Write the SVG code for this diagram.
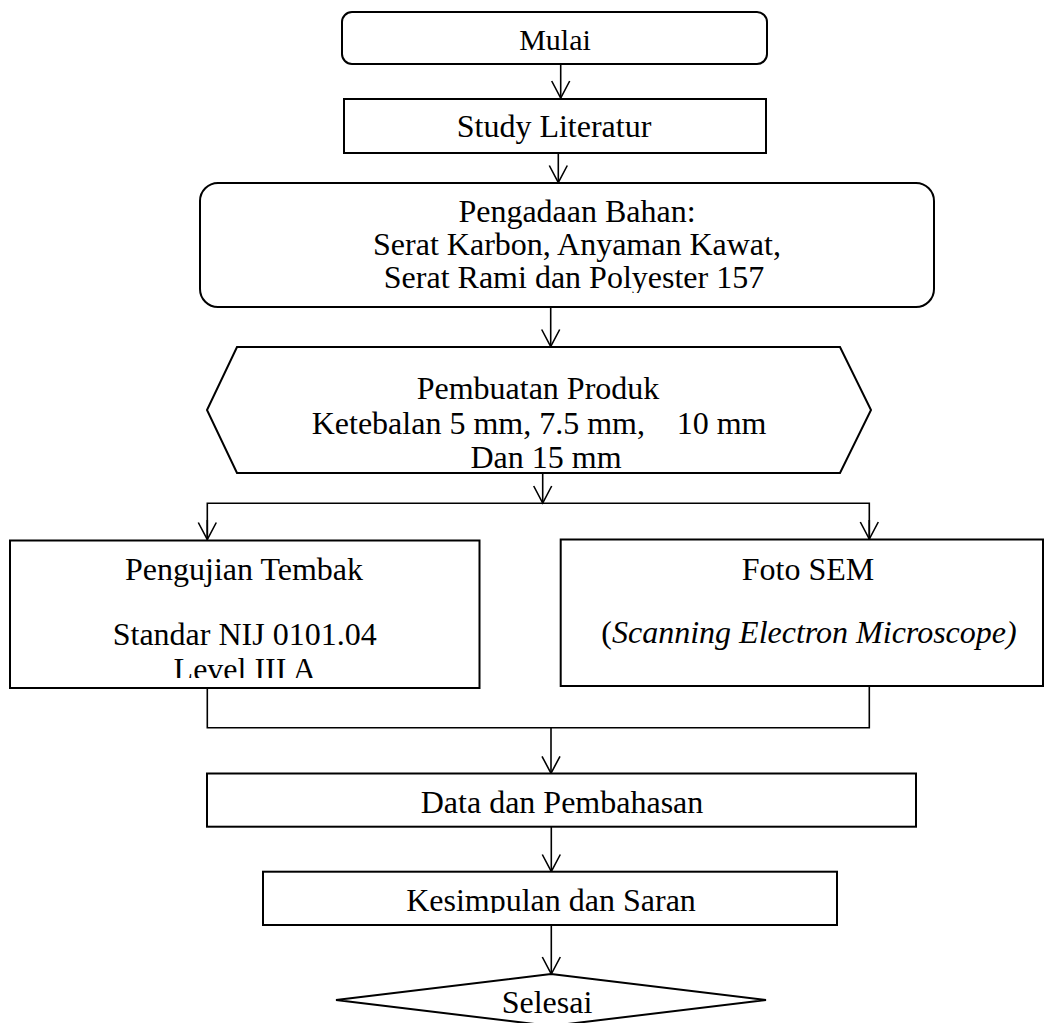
<svg xmlns="http://www.w3.org/2000/svg" width="1047" height="1023" viewBox="0 0 1047 1023">
<style>
.box{fill:#fff;stroke:#000;stroke-width:2}
.t{font-family:"Liberation Serif","Times New Roman",serif;font-size:32px;fill:#000;text-anchor:middle}
.c{fill:none;stroke:#000;stroke-width:1.6}
.i{font-style:italic}
</style>
<defs>
<marker id="ah" markerUnits="userSpaceOnUse" markerWidth="24" markerHeight="24" viewBox="-20 -12 24 24" refX="0" refY="0" orient="auto" overflow="visible">
<path d="M-17,-9 L0,0 L-17,9" fill="none" stroke="#000" stroke-width="1.6"/>
</marker>
<clipPath id="clipL"><rect x="10" y="540" width="470" height="138"/></clipPath>
<clipPath id="clipK"><rect x="263" y="872" width="574" height="41"/></clipPath>
<clipPath id="clipP"><rect x="200" y="183" width="734" height="110"/></clipPath>
</defs>
<g id="connectors">
<line class="c" x1="560.7" y1="64" x2="560.7" y2="98" marker-end="url(#ah)"/>
<line class="c" x1="558.3" y1="153" x2="558.3" y2="182.5" marker-end="url(#ah)"/>
<line class="c" x1="550.7" y1="307" x2="550.7" y2="346.5" marker-end="url(#ah)"/>
<line class="c" x1="542.7" y1="473" x2="542.7" y2="503" marker-end="url(#ah)"/>
<polyline class="c" points="207.3,539.5 207.3,503.3 869.3,503.3 869.3,539"/>
<line class="c" x1="207.3" y1="520" x2="207.3" y2="539.5" marker-end="url(#ah)"/>
<line class="c" x1="869.3" y1="520" x2="869.3" y2="539" marker-end="url(#ah)"/>
<polyline class="c" points="207.3,688 207.3,727.7 869.3,727.7 869.3,686"/>
<line class="c" x1="551" y1="727.7" x2="551" y2="773.3" marker-end="url(#ah)"/>
<line class="c" x1="551.3" y1="826.7" x2="551.3" y2="871.5" marker-end="url(#ah)"/>
<line class="c" x1="551.3" y1="925" x2="551.3" y2="974" marker-end="url(#ah)"/>
</g>
<g id="mulai">
<rect class="box" x="342" y="12" width="425" height="52" rx="10"/>
<text class="t" x="555" y="50" style="font-size:30px">Mulai</text>
</g>
<g id="study">
<rect class="box" x="344" y="99" width="422" height="54"/>
<text class="t" x="554" y="137">Study Literatur</text>
</g>
<g id="pengadaan">
<rect class="box" x="200" y="183" width="734" height="124" rx="18"/>
<g clip-path="url(#clipP)">
<text class="t" x="577" y="222">Pengadaan Bahan:</text>
<text class="t" x="577" y="255">Serat Karbon, Anyaman Kawat,</text>
<text class="t" x="574" y="288">Serat Rami dan Polyester 157</text>
</g>
</g>
<g id="pembuatan">
<polygon class="box" points="237,347 840,347 871,410 840,473 237,473 207,410"/>
<text class="t" x="538" y="399">Pembuatan Produk</text>
<text class="t" style="text-anchor:start"><tspan x="311.7" y="434">Ketebalan 5 mm, 7.5 mm,</tspan><tspan x="676.7" y="434">10 mm</tspan></text>
<text class="t" x="546" y="468">Dan 15 mm</text>
</g>
<g id="pengujian">
<rect class="box" x="10" y="540.5" width="469.5" height="147.5"/>
<text class="t" x="244" y="580">Pengujian Tembak</text>
<text class="t" x="244.7" y="645">Standar NIJ 0101.04</text>
<text class="t" x="244.7" y="680" clip-path="url(#clipL)">Level III A</text>
</g>
<g id="sem">
<rect class="box" x="560.7" y="539.5" width="482.3" height="146.5"/>
<text class="t" x="808" y="580">Foto SEM</text>
<text class="t" x="809" y="643">(<tspan class="i">Scanning Electron Microscope)</tspan></text>
</g>
<g id="data">
<rect class="box" x="207" y="773.5" width="709" height="53.2"/>
<text class="t" x="562" y="813">Data dan Pembahasan</text>
</g>
<g id="kesimpulan">
<rect class="box" x="263" y="871.7" width="574" height="53.3"/>
<text class="t" x="551" y="911" clip-path="url(#clipK)">Kesimpulan dan Saran</text>
</g>
<g id="selesai">
<polygon class="box" points="551,974 766,1000 551,1026 336,1000"/>
<text class="t" x="547" y="1013">Selesai</text>
</g>
</svg>
